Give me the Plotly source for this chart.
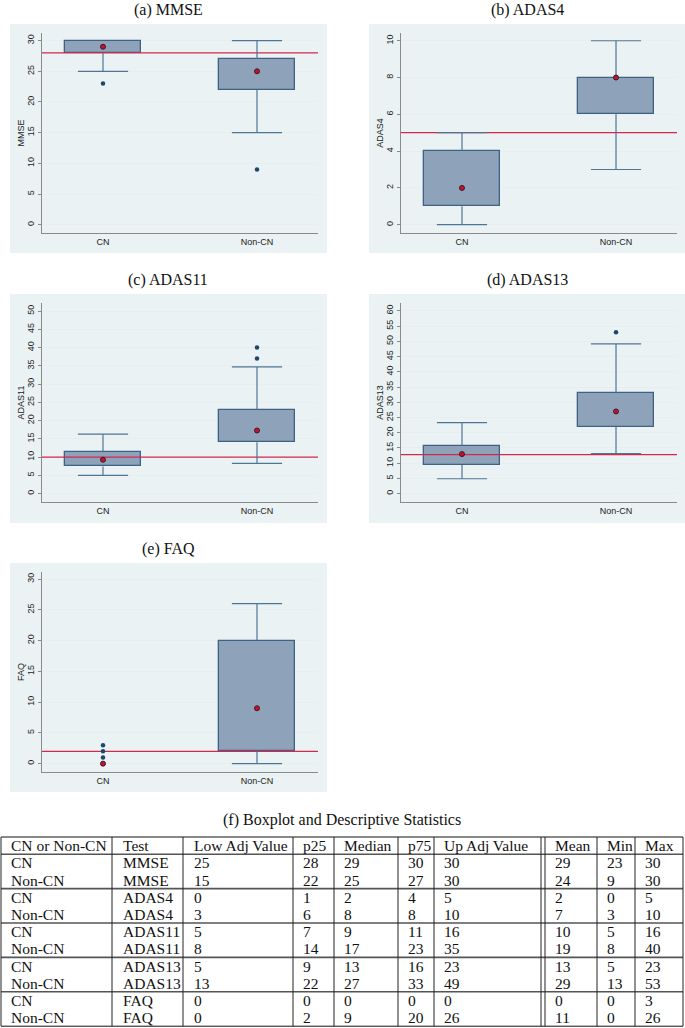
import plotly.graph_objects as go

# ---------------- data ----------------
categories = ["CN", "Non-CN"]
tests = ["MMSE", "ADAS4", "ADAS11", "ADAS13", "FAQ"]
panel_titles = ["(a) MMSE", "(b) ADAS4", "(c) ADAS11", "(d) ADAS13", "(e) FAQ"]

# box statistics, [CN, Non-CN] per test
box_lo = [[25, 15], [0, 3], [5.0, 8.3], [4.9, 13.2], [0, 0]]
box_q1 = [[28, 22], [1, 6], [7.45, 14.1], [9.4, 22.0], [0, 2]]
box_med = [[29, 25], [2, 8], [9.3, 17.3], [13.0, 27.0], [0, 9]]
box_q3 = [[30, 27], [4, 8], [11.35, 23.0], [15.8, 32.9], [0, 20]]
box_hi = [[30, 30], [5, 10], [16.3, 34.7], [23.3, 49.2], [0, 26]]
outliers = [[[23], [9]], [[], []], [[], [37, 40]], [[], [53]], [[1, 2, 3], []]]
cutoffs = [28, 5, 10, 12.8, 2]

y_ranges = [[-1.35, 31.24], [-0.45, 10.42], [-2.27, 52.2], [-2.73, 62.6], [-1.36, 31.14]]
y_tick_max = [30, 10, 50, 60, 30]
y_tick_step = [5, 2, 5, 5, 5]

# descriptive statistics table
table_title = "(f) Boxplot and Descriptive Statistics"
table_header = ["CN or Non-CN", "Test", "Low Adj Value", "p25", "Median", "p75",
                "Up Adj Value", "Mean", "Min", "Max"]
tbl_group = ["CN", "Non-CN"] * 5
tbl_test = ["MMSE", "MMSE", "ADAS4", "ADAS4", "ADAS11", "ADAS11", "ADAS13", "ADAS13", "FAQ", "FAQ"]
tbl_low_adj = [25, 15, 0, 3, 5, 8, 5, 13, 0, 0]
tbl_p25 = [28, 22, 1, 6, 7, 14, 9, 22, 0, 2]
tbl_median = [29, 25, 2, 8, 9, 17, 13, 27, 0, 9]
tbl_p75 = [30, 27, 4, 8, 11, 23, 16, 33, 0, 20]
tbl_up_adj = [30, 30, 5, 10, 16, 35, 23, 49, 0, 26]
tbl_mean = [29, 24, 2, 7, 10, 19, 13, 29, 0, 11]
tbl_min = [23, 9, 0, 3, 5, 8, 5, 13, 0, 0]
tbl_max = [30, 30, 5, 10, 16, 40, 23, 53, 3, 26]

# ---------------- layout constants ----------------
W, H = 685, 1028
def px(x): return x / W
def py(y): return 1 - y / H

plot_boxes = [(42, 318, 33, 233), (401, 677, 33, 233),
              (42, 318, 303, 502), (401, 677, 303, 502),
              (42, 318, 572, 772)]
frames = [(10, 327, 24, 253), (369, 685, 24, 253),
          (10, 327, 294, 523), (369, 685, 294, 523),
          (10, 327, 563, 792)]
title_pos = [(168, 10), (527, 10), (168, 280), (527, 280), (168, 549)]

X_RANGE = [-0.396, 1.396]
BAR_W = 0.493
CAP_HALF = 0.163

FILL = "#8ea3b9"
BOX_LINE = "#3d6285"
WHISK = "#4f7595"
OUT_COL = "#1a476f"
MED_COL = "#c8102e"
CUT_COL = "#d0284f"
FRAME_COL = "#eaf2f3"
GRID_COL = "#e6eef0"
AXIS_COL = "#8a8a8a"
SANS = "Liberation Sans, Arial, sans-serif"
SERIF = "Liberation Serif, Times New Roman, serif"

fig = go.Figure()
shapes = []
annotations = []
layout_axes = {}

xpos = list(range(len(categories)))

for i, test in enumerate(tests):
    n = i + 1
    xa = "x" if n == 1 else f"x{n}"
    ya = "y" if n == 1 else f"y{n}"
    x0, x1, y0, y1 = plot_boxes[i]

    # boxes (skip degenerate boxes)
    bx, bbase, bh = [], [], []
    for k in xpos:
        if box_q3[i][k] > box_q1[i][k]:
            bx.append(k)
            bbase.append(box_q1[i][k])
            bh.append(box_q3[i][k] - box_q1[i][k])
    fig.add_trace(go.Bar(x=bx, y=bh, base=bbase, width=BAR_W, xaxis=xa, yaxis=ya,
                         marker=dict(color=FILL, line=dict(color=BOX_LINE, width=1.3)),
                         showlegend=False, hoverinfo="skip"))

    # cutoff line
    fig.add_trace(go.Scatter(x=X_RANGE, y=[cutoffs[i], cutoffs[i]], mode="lines",
                             line=dict(color=CUT_COL, width=1.2), xaxis=xa, yaxis=ya,
                             showlegend=False, hoverinfo="skip"))

    # whiskers and caps
    wx, wy = [], []
    for k in xpos:
        if box_hi[i][k] > box_q3[i][k]:
            wx += [k, k, None]; wy += [box_q3[i][k], box_hi[i][k], None]
        if box_lo[i][k] < box_q1[i][k]:
            wx += [k, k, None]; wy += [box_q1[i][k], box_lo[i][k], None]
        if box_hi[i][k] > box_q3[i][k]:
            wx += [k - CAP_HALF, k + CAP_HALF, None]; wy += [box_hi[i][k], box_hi[i][k], None]
        if box_lo[i][k] < box_q1[i][k]:
            wx += [k - CAP_HALF, k + CAP_HALF, None]; wy += [box_lo[i][k], box_lo[i][k], None]
    if wx:
        fig.add_trace(go.Scatter(x=wx, y=wy, mode="lines", line=dict(color=WHISK, width=1.2),
                                 xaxis=xa, yaxis=ya, showlegend=False, hoverinfo="skip",
                                 connectgaps=False))

    # outliers
    ox, oy = [], []
    for k in xpos:
        for v in outliers[i][k]:
            ox.append(k); oy.append(v)
    if ox:
        fig.add_trace(go.Scatter(x=ox, y=oy, mode="markers",
                                 marker=dict(color=OUT_COL, size=4.5),
                                 xaxis=xa, yaxis=ya, showlegend=False))

    # medians
    fig.add_trace(go.Scatter(x=xpos, y=box_med[i], mode="markers",
                             marker=dict(color=MED_COL, size=5,
                                         line=dict(color="#3a1a28", width=1)),
                             xaxis=xa, yaxis=ya, showlegend=False))

    ticks = list(range(0, y_tick_max[i] + 1, y_tick_step[i]))
    layout_axes["xaxis" if n == 1 else f"xaxis{n}"] = dict(
        domain=[px(x0), px(x1)], range=X_RANGE, anchor=ya,
        tickvals=xpos, ticktext=categories, showgrid=False, zeroline=False,
        showline=True, linecolor=AXIS_COL, linewidth=1, ticks="",
        tickfont=dict(family=SANS, size=9, color="#222"), fixedrange=True)
    layout_axes["yaxis" if n == 1 else f"yaxis{n}"] = dict(
        domain=[py(y1), py(y0)], range=y_ranges[i], anchor=xa,
        tickvals=ticks, tickangle=-90, ticks="outside", ticklen=3, tickcolor=AXIS_COL,
        showgrid=True, gridcolor=GRID_COL, gridwidth=1, zeroline=False,
        showline=True, linecolor=AXIS_COL, linewidth=1,
        tickfont=dict(family=SANS, size=9, color="#222"),
        title=dict(text=test, font=dict(family=SANS, size=9, color="#222"), standoff=0),
        fixedrange=True)

    fx0, fx1, fy0, fy1 = frames[i]
    shapes.append(dict(type="rect", xref="paper", yref="paper", layer="below",
                       x0=px(fx0), x1=px(fx1), y0=py(fy1), y1=py(fy0),
                       fillcolor=FRAME_COL, line=dict(width=0)))
    tx, ty = title_pos[i]
    annotations.append(dict(text=panel_titles[i], x=px(tx), y=py(ty), xref="paper", yref="paper",
                            showarrow=False, xanchor="center", yanchor="middle",
                            font=dict(family=SERIF, size=16, color="#111")))

# ---------------- table ----------------
annotations.append(dict(text=table_title, x=px(342), y=py(820), xref="paper", yref="paper",
                        showarrow=False, xanchor="center", yanchor="middle",
                        font=dict(family=SERIF, size=16, color="#111")))

col_lines = [1, 112, 183, 293, 334, 398, 434, 541, 545, 597, 635, 683]
col_text_x = [9, 121, 192, 301, 342, 406, 442, 553, 605, 643]
T_TOP = 837
ROW_H = 17.2
n_rows = len(tbl_group) + 1
T_BOT = T_TOP + ROW_H * n_rows

columns = [tbl_group, tbl_test, tbl_low_adj, tbl_p25, tbl_median, tbl_p75,
           tbl_up_adj, tbl_mean, tbl_min, tbl_max]

for c, htxt in enumerate(table_header):
    annotations.append(dict(text=htxt, x=px(col_text_x[c]), y=py(T_TOP + ROW_H * 0.5),
                            xref="paper", yref="paper", showarrow=False,
                            xanchor="left", yanchor="middle",
                            font=dict(family=SERIF, size=15.5, color="#111")))
for r in range(len(tbl_group)):
    yc = T_TOP + ROW_H * (r + 1.5)
    for c, col in enumerate(columns):
        annotations.append(dict(text=str(col[r]), x=px(col_text_x[c]), y=py(yc),
                                xref="paper", yref="paper", showarrow=False,
                                xanchor="left", yanchor="middle",
                                font=dict(family=SERIF, size=15.5, color="#111")))

# horizontal lines
for k in [0, 1, 3, 5, 7, 9, 11]:
    yy = T_TOP + ROW_H * k
    wdt = 1.0 if k in (0, 11) else 1.6
    col = "#111" if k in (0, 11) else "#555"
    shapes.append(dict(type="line", xref="paper", yref="paper",
                       x0=px(col_lines[0]), x1=px(col_lines[-1]), y0=py(yy), y1=py(yy),
                       line=dict(color=col, width=wdt)))
# vertical lines
for xl in col_lines:
    shapes.append(dict(type="line", xref="paper", yref="paper",
                       x0=px(xl), x1=px(xl), y0=py(T_TOP), y1=py(T_BOT),
                       line=dict(color="#222", width=1)))

fig.update_layout(width=W, height=H, margin=dict(l=0, r=0, t=0, b=0),
                  paper_bgcolor="white", plot_bgcolor="white",
                  shapes=shapes, annotations=annotations, showlegend=False,
                  bargap=0, **layout_axes)

fig.write_html("out.html", config={"displayModeBar": False},
               post_script="document.body.style.margin='0px';document.body.style.overflow='hidden';")
